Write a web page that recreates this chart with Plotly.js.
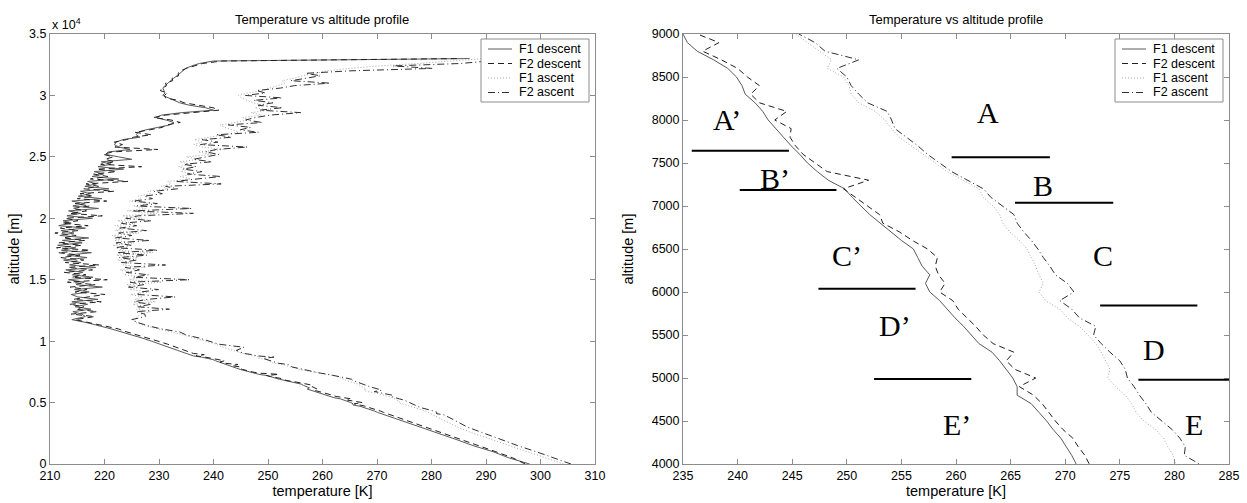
<!DOCTYPE html>
<html>
<head>
<meta charset="utf-8">
<script src="https://cdn.plot.ly/plotly-3.0.1.min.js"></script>
<style>
  html, body { margin: 0; padding: 0; background: #ffffff; }
  #chart { width: 1247px; height: 503px; }
</style>
</head>
<body>
<div id="chart"></div>
<script>
// Altitude grid (m) shared by the four radiosonde profiles
const altitude = [
  0, 500, 1000, 1500, 2000, 2500, 3000, 3500,
  4000, 4100, 4200, 4300, 4400, 4500, 4600, 4700, 4800, 4900,
  5000, 5100, 5200, 5300, 5400, 5500, 5600, 5700, 5800, 5900,
  6000, 6100, 6200, 6300, 6400, 6500, 6600, 6700, 6800, 6900,
  7000, 7100, 7200, 7300, 7400, 7500, 7600, 7700, 7800, 7900,
  8000, 8100, 8200, 8300, 8400, 8500, 8600, 8700, 8800, 8900,
  9000,
  9250, 9500, 9750, 10000, 10250, 10500, 10750, 11000, 11250, 11500, 11750, 12000,
  12200, 12400, 12600, 12800, 13000, 13200, 13400, 13600, 13800, 14000,
  14200, 14400, 14600, 14800, 15000, 15200, 15400, 15600, 15800, 16000,
  16200, 16400, 16600, 16800, 17000, 17200, 17400, 17600, 17800, 18000,
  18200, 18400, 18600, 18800, 19000, 19200, 19400, 19600, 19800, 20000,
  20200, 20400, 20600, 20800, 21000, 21200, 21400, 21600, 21800, 22000,
  22200, 22400, 22600, 22800, 23000, 23200, 23400, 23600, 23800, 24000,
  24200, 24400, 24600, 24800, 25000, 25200, 25400, 25600, 25800, 26000,
  26200, 26400, 26600, 26800, 27000, 27200, 27400, 27600, 27800, 28000,
  28200, 28400, 28600, 28800, 29000, 29200, 29400, 29600, 29800, 30000,
  30200, 30400, 30600, 30800, 31000, 31200, 31400, 31600, 31800, 32000,
  32200, 32400, 32600, 32800, 33000
];

// Temperature (K) of flight 1, descent
const f1Descent = [
  298.0, 294.2, 291.3, 287.6, 284.5, 281.2, 277.9, 274.6,
  271.0, 270.6, 270.1, 269.6, 268.9, 268.3, 267.6, 266.9, 265.6, 265.6,
  265.2, 264.6, 264.0, 263.3, 262.1, 261.4, 260.7, 259.9, 259.2, 258.5,
  257.6, 257.2, 257.6, 256.9, 256.5, 256.1, 255.0, 254.0, 253.0, 252.1,
  251.3, 250.5, 249.8, 248.3, 247.3, 246.4, 245.7, 244.9, 244.2, 243.5,
  242.8, 242.3, 241.6, 240.7, 240.4, 239.9, 239.1, 237.8, 236.3, 235.4,
  235.0,
  233.4, 231.9, 230.3, 228.6, 226.9, 225.1, 223.0, 221.2, 219.0, 216.8, 214.0, 216.5,
  215.8, 214.2, 217.5, 214.6, 216.9, 214.0, 218.8, 215.1, 213.9, 217.2,
  214.5, 219.6, 214.8, 216.3, 213.4, 217.9, 214.1, 216.0, 212.9, 218.4,
  213.6, 215.7, 212.5, 216.8, 213.2, 217.6, 212.1, 214.7, 211.4, 215.9,
  212.3, 217.1, 211.8, 214.4, 212.0, 216.5, 211.6, 213.9, 212.4, 217.8,
  213.1, 215.6, 213.4, 218.9, 214.2, 216.3, 214.0, 219.5, 215.2, 217.4,
  215.6, 220.8, 216.4, 218.5, 216.9, 222.6, 217.7, 219.8, 218.1, 223.5,
  218.8, 221.2, 219.4, 225.0, 222.6, 220.2, 220.7, 224.7, 222.6, 221.8,
  222.2, 223.3, 226.5, 225.8, 226.2, 227.6, 229.8, 232.0, 232.7, 231.3,
  229.4, 230.5, 234.2, 240.0, 238.5, 235.6, 233.8, 232.7, 231.6, 230.7,
  231.1, 230.9, 230.7, 231.1, 231.6, 232.1, 232.7, 233.3, 233.8, 234.3,
  234.9, 236.0, 237.4, 240.0, 287.0
];

// Temperature (K) of flight 2, descent
const f2Descent = [
  297.2, 294.9, 291.8, 288.6, 285.3, 282.0, 278.8, 275.6,
  272.2, 271.8, 271.2, 270.7, 269.8, 269.1, 268.5, 267.9, 267.1, 265.8,
  267.3, 265.4, 264.6, 265.3, 263.4, 262.5, 261.8, 261.0, 260.2, 259.7,
  258.5, 259.0, 258.4, 258.1, 258.3, 257.4, 256.0, 254.8, 253.3, 253.0,
  251.9, 250.8, 249.7, 252.0, 248.2, 247.1, 246.0, 245.3, 244.8, 244.9,
  243.4, 244.5, 242.0, 241.2, 242.0, 240.9, 240.0, 238.5, 236.8, 238.3,
  236.3,
  234.8, 233.0, 231.6, 229.8, 227.8, 226.3, 224.1, 222.5, 220.0, 217.5, 214.6, 218.2,
  213.9, 218.6, 214.8, 216.2, 213.6, 219.4, 214.3, 217.0, 220.1, 214.6,
  216.8, 213.7, 218.3, 213.2, 220.5, 214.0, 216.6, 212.6, 217.8, 213.3,
  219.0, 212.8, 216.2, 212.0, 215.5, 211.5, 217.3, 211.2, 215.8, 211.6,
  216.4, 212.4, 214.8, 210.9, 215.2, 211.9, 217.0, 212.2, 215.1, 212.8,
  219.6, 213.6, 216.7, 214.1, 217.3, 214.6, 220.4, 215.0, 217.9, 215.5,
  221.7, 216.2, 218.9, 216.6, 224.3, 217.4, 220.6, 218.0, 222.2, 218.6,
  226.8, 219.3, 221.9, 220.1, 221.6, 219.8, 221.4, 229.8, 221.9, 223.3,
  221.8, 224.0, 225.3, 228.6, 225.6, 228.3, 230.6, 231.4, 233.9, 232.2,
  229.0, 231.2, 235.5, 241.0, 239.9, 236.8, 234.6, 233.5, 231.2, 231.0,
  231.5, 230.2, 230.9, 231.4, 231.2, 232.5, 232.4, 233.6, 233.5, 234.0,
  235.0, 236.4, 238.0, 241.5, 285.0
];

// Temperature (K) of flight 1, ascent
const f1Ascent = [
  304.2, 301.0, 297.5, 294.3, 291.0, 287.6, 284.8, 282.5,
  280.1, 279.9, 279.4, 279.0, 278.3, 277.2, 276.5, 276.1, 275.5, 274.6,
  273.9, 274.1, 273.7, 273.3, 272.8, 272.1, 271.3, 270.2, 269.5, 268.2,
  267.6, 268.0, 267.6, 267.3, 266.9, 266.5, 265.8, 264.9, 264.3, 264.0,
  263.4, 262.5, 262.1, 260.7, 259.2, 258.1, 257.0, 255.9, 254.8, 254.1,
  253.5, 252.6, 251.1, 250.4, 250.2, 249.7, 248.2, 248.6, 247.5, 246.4,
  245.3,
  243.6, 241.8, 240.5, 238.6, 236.8, 234.6, 232.2, 229.6, 227.5, 225.8, 225.2, 226.0,
  226.8, 228.5, 225.9, 227.3, 225.2, 229.4, 225.6, 226.9, 224.8, 228.2,
  224.6, 226.3, 224.1, 230.5, 224.5, 226.8, 223.6, 225.2, 222.9, 227.6,
  223.4, 224.7, 222.4, 226.1, 222.2, 228.9, 222.6, 224.3, 221.5, 225.4,
  221.8, 223.9, 221.4, 226.3, 222.0, 224.2, 221.9, 225.6, 222.4, 226.9,
  223.3, 229.6, 224.2, 227.5, 225.4, 228.3, 224.6, 226.7, 226.2, 228.4,
  228.0, 231.6, 230.4, 232.2, 231.6, 235.8, 233.9, 236.5, 234.0, 235.2,
  233.6, 236.1, 233.8, 237.4, 235.0, 239.6, 237.2, 241.8, 238.0, 236.4,
  237.9, 236.5, 239.2, 241.7, 244.6, 243.5, 242.0, 241.2, 243.6, 246.5,
  245.4, 248.8, 246.9, 250.2, 247.6, 249.3, 247.2, 246.0, 245.1, 244.6,
  246.3, 248.9, 250.6, 251.8, 253.1, 252.6, 254.8, 256.3, 258.7, 260.8,
  264.9, 270.3, 277.6, 284.5, 289.6
];

// Temperature (K) of flight 2, ascent
const f2Ascent = [
  305.6, 302.5, 299.2, 295.8, 292.6, 289.4, 286.6, 284.5,
  282.3, 280.9, 281.0, 280.5, 279.8, 278.8, 277.9, 277.4, 276.8, 276.3,
  275.7, 275.5, 275.0, 274.1, 273.3, 272.6, 272.8, 271.3, 270.6, 269.5,
  270.8, 270.2, 269.1, 268.6, 268.0, 267.5, 266.9, 266.2, 265.6, 265.3,
  264.3, 263.2, 262.5, 261.0, 259.6, 258.5, 257.4, 256.5, 255.5, 254.4,
  254.1, 253.7, 251.9, 251.1, 250.4, 250.0, 249.1, 251.1, 248.0, 247.1,
  245.6,
  244.2, 245.6, 241.0, 239.3, 237.4, 235.0, 233.8, 230.4, 228.0, 226.2, 225.0, 227.5,
  227.4, 225.8, 231.9, 226.0, 228.6, 225.4, 227.8, 233.0, 225.9, 226.7,
  229.9, 224.4, 227.2, 224.7, 235.6, 225.3, 228.1, 224.0, 226.4, 223.8,
  231.2, 223.1, 225.9, 222.7, 227.8, 222.3, 229.8, 222.0, 224.9, 222.1,
  228.3, 222.0, 225.0, 222.6, 227.7, 222.8, 225.9, 223.1, 228.6, 223.9,
  226.2, 236.3, 225.1, 236.0, 226.0, 229.7, 225.3, 228.8, 227.3, 230.6,
  229.1, 233.4, 231.2, 241.4, 233.0, 237.0, 241.4, 235.2, 237.9, 234.4,
  236.8, 234.6, 239.7, 236.3, 238.4, 241.0, 238.6, 240.5, 246.2, 237.6,
  240.8, 237.9, 243.3, 240.5, 248.3, 244.9, 246.8, 242.7, 249.0, 245.9,
  247.7, 250.4, 256.0, 248.5, 252.7, 248.2, 250.9, 247.4, 252.6, 245.8,
  249.5, 247.9, 252.3, 254.9, 261.4, 254.2, 257.0, 259.6, 256.9, 265.0,
  280.2, 272.9, 285.3, 290.5, 291.2
];

const seriesNames = ['F1 descent', 'F2 descent', 'F1 ascent', 'F2 ascent'];

// Tick values / labels
const leftTempTicks = [210, 220, 230, 240, 250, 260, 270, 280, 290, 300, 310];
const leftAltTicks = [0, 5000, 10000, 15000, 20000, 25000, 30000, 35000];
const leftAltLabels = ['0', '0.5', '1', '1.5', '2', '2.5', '3', '3.5'];
const rightTempTicks = [235, 240, 245, 250, 255, 260, 265, 270, 275, 280, 285];
const rightAltTicks = [4000, 4500, 5000, 5500, 6000, 6500, 7000, 7500, 8000, 8500, 9000];

// Layer labels in the zoomed panel (temperature, altitude)
const layerLabels = ['A\u2019', 'B\u2019', 'C\u2019', 'D\u2019', 'E\u2019', 'A', 'B', 'C', 'D', 'E'];
const layerLabelTemp = [239.0, 243.4, 250.0, 254.4, 260.1, 262.9, 268.0, 273.5, 278.1, 281.8];
const layerLabelAlt = [8010, 7320, 6430, 5605, 4461, 8087, 7244, 6430, 5333, 4461];

// Layer boundary markers: start/end temperature and altitude
const boundaryTempStart = [235.8, 240.2, 247.4, 252.5, 259.6, 265.4, 273.2, 276.7];
const boundaryTempEnd = [244.7, 249.05, 256.3, 261.4, 268.6, 274.4, 282.1, 285.6];
const boundaryAlt = [7643, 7186, 6039, 4988, 7566, 7039, 5842, 4981];

const allSeries = [f1Descent, f2Descent, f1Ascent, f2Ascent];
allSeries.forEach((s, i) => {
  if (s.length !== altitude.length) {
    throw new Error(seriesNames[i] + ' has ' + s.length + ' values, altitude has ' + altitude.length);
  }
});

const lineStyles = [
  { color: '#5a5a5a', width: 1, dash: 'solid' },
  { color: '#202020', width: 1, dash: '6px,4px' },
  { color: '#a8a8a8', width: 1, dash: '1px,2px' },
  { color: '#303030', width: 1, dash: '7px,3px,1px,3px' }
];

const FONT = 'Liberation Sans, Arial, sans-serif';
const W = 1247, H = 503;
const M = { l: 50, r: 18, t: 34, b: 39 };
const px2paperX = px => (px - M.l) / (W - M.l - M.r);
const px2paperY = py => (H - M.b - py) / (H - M.t - M.b);

const traces = [];
[['x', 'y'], ['x2', 'y2']].forEach(([xa, ya]) => {
  allSeries.forEach((temps, i) => {
    traces.push({
      type: 'scatter',
      mode: 'lines',
      x: temps,
      y: altitude,
      xaxis: xa,
      yaxis: ya,
      name: seriesNames[i],
      showlegend: false,
      line: lineStyles[i],
      hoverinfo: 'skip'
    });
  });
});

const axisStyle = {
  showline: true,
  linecolor: '#8c8c8c',
  linewidth: 1,
  mirror: 'ticks',
  ticks: 'inside',
  ticklen: 5,
  tickcolor: '#8c8c8c',
  showgrid: false,
  zeroline: false,
  tickfont: { family: FONT, size: 12.5, color: '#000' },
  title: { font: { family: FONT, size: 14.5, color: '#000' } }
};

function axis(extra) {
  const a = JSON.parse(JSON.stringify(axisStyle));
  return Object.assign(a, extra, { title: Object.assign(a.title, extra.title || {}) });
}

// Layer boundary markers
const shapes = boundaryAlt.map((a, i) => ({
  type: 'line',
  xref: 'x2', yref: 'y2',
  x0: boundaryTempStart[i], x1: boundaryTempEnd[i],
  y0: a, y1: a,
  line: { color: '#000', width: 2 }
}));

const annotations = layerLabels.map((t, i) => ({
  text: t,
  xref: 'x2', yref: 'y2',
  x: layerLabelTemp[i], y: layerLabelAlt[i],
  showarrow: false,
  xanchor: 'center', yanchor: 'middle',
  font: { family: 'Liberation Serif, Times New Roman, serif', size: 30, color: '#000' }
}));

// Compact boxed legends in the top-right corner of each panel
const legendLeftPx = [481, 1115];
const legendTopPx = 39, legendW = 108, legendH = 63, rowH = 14.5;
legendLeftPx.forEach(lx => {
  shapes.push({
    type: 'rect', xref: 'paper', yref: 'paper',
    x0: px2paperX(lx), x1: px2paperX(lx + legendW),
    y0: px2paperY(legendTopPx), y1: px2paperY(legendTopPx + legendH),
    fillcolor: '#ffffff', line: { color: '#8c8c8c', width: 1 }
  });
  seriesNames.forEach((name, i) => {
    const ry = legendTopPx + 10 + i * rowH;
    shapes.push({
      type: 'line', xref: 'paper', yref: 'paper',
      x0: px2paperX(lx + 7), x1: px2paperX(lx + 31),
      y0: px2paperY(ry), y1: px2paperY(ry),
      line: lineStyles[i]
    });
    annotations.push({
      text: name, xref: 'paper', yref: 'paper',
      x: px2paperX(lx + 36), y: px2paperY(ry),
      xanchor: 'left', yanchor: 'middle', showarrow: false,
      font: { family: FONT, size: 12.5, color: '#000' }
    });
  });
});

['Temperature vs altitude profile', 'Temperature vs altitude profile'].forEach((t, i) => {
  annotations.push({
    text: t,
    xref: 'paper', yref: 'paper',
    x: i === 0 ? 0.2311 : 0.7684, y: px2paperY(20),
    showarrow: false, xanchor: 'center', yanchor: 'middle',
    font: { family: FONT, size: 13, color: '#000' }
  });
});

// Exponent of the left altitude axis
annotations.push({
  text: 'x 10<sup>4</sup>',
  xref: 'paper', yref: 'paper',
  x: 0, y: 1.0,
  showarrow: false, xanchor: 'left', yanchor: 'bottom',
  font: { family: FONT, size: 12.5, color: '#000' }
});

const layout = {
  width: W,
  height: H,
  margin: { l: M.l, r: M.r, t: M.t, b: M.b, pad: 0 },
  paper_bgcolor: '#ffffff',
  plot_bgcolor: '#ffffff',
  showlegend: false,
  xaxis: axis({ domain: [0, 0.46226], range: [210, 310], tickvals: leftTempTicks, anchor: 'y',
                title: { text: 'temperature [K]', standoff: 3 } }),
  yaxis: axis({ range: [0, 35000], tickvals: leftAltTicks, ticktext: leftAltLabels, anchor: 'x',
                title: { text: 'altitude [m]', standoff: 6 } }),
  xaxis2: axis({ domain: [0.5369, 1], range: [235, 285], tickvals: rightTempTicks, anchor: 'y2',
                 title: { text: 'temperature [K]', standoff: 3 } }),
  yaxis2: axis({ range: [4000, 9000], tickvals: rightAltTicks, anchor: 'x2',
                 title: { text: 'altitude [m]', standoff: 14 } }),
  shapes: shapes,
  annotations: annotations
};

Plotly.newPlot('chart', traces, layout, { displayModeBar: false, staticPlot: true });
</script>
</body>
</html>
